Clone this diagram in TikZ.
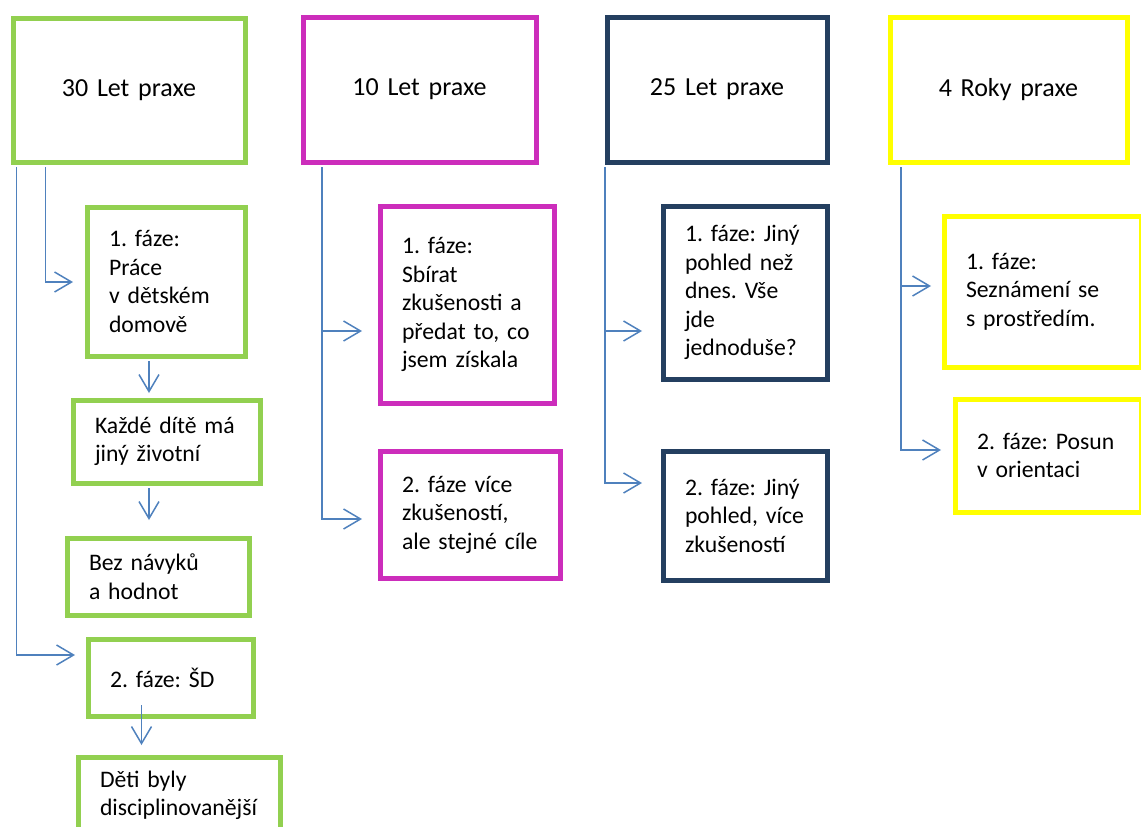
\documentclass[tikz,border=0pt]{standalone}
\usepackage{fontspec}
\setmainfont{Carlito}
\usetikzlibrary{calc}
\usetikzlibrary{arrows.meta}
\definecolor{zelena}{RGB}{146,208,80}
\definecolor{fialova}{RGB}{204,45,187}
\definecolor{tmava}{RGB}{36,63,96}
\definecolor{zluta}{RGB}{255,255,0}
\definecolor{spojka}{RGB}{79,129,189}
\tikzset{box/.style={draw=#1,line width=5pt,anchor=north west,inner xsep=22pt,inner ysep=0pt,
  align=left,font=\fontsize{23.7}{28.5}\selectfont,
  execute at begin node={\frenchspacing\hyphenpenalty=10000\relax}},box/.default=zelena}
\tikzset{heading/.style={box=#1,align=center,minimum height=145pt,
  font=\fontsize{26}{31}\selectfont},heading/.default=zelena}
\tikzset{link/.style={draw=spojka,line width=1.5pt,-{Straight Barb[length=17pt,width=20pt]}}}

\begin{document}
\begin{tikzpicture}[x=1pt,y=-1pt]

	\useasboundingbox (0,0) rectangle (1141,827);

	% 30 let praxe
	\node [heading=zelena, text width=188pt, minimum height=144pt] (g0) at (10.5,15.5) {30 Let praxe};
	\node [box=zelena, text width=114pt, minimum height=149pt] (g1) at (84.5,204.5)
		{1. fáze:\\Práce\\v dětském\\domově};
	\node [box=zelena, text width=143pt, minimum height=83pt] (g2) at (70.5,397.5)
		{Každé dítě má\\jiný životní};
	\node [box=zelena, text width=138pt, minimum height=77pt] (g3) at (64.5,535.5)
		{Bez návyků\\a hodnot};
	\node [box=zelena, text width=121pt, minimum height=77pt] (g4) at (85.5,636.5)
		{2. fáze: ŠD};
	\node [box=zelena, text width=158pt, minimum height=77pt] (g5) at (75.5,754.5)
		{Děti byly\\disciplinovanější};

	% 10 let praxe
	\node [heading=fialova, text width=189pt] (m0) at (300.5,14.5) {10 Let praxe};
	\node [box=fialova, text width=130pt, minimum height=197pt] (m1) at (377.5,203.5)
		{1. fáze:\\Sbírat\\zkušenosti a\\předat to, co\\jsem získala};
	\node [box=fialova, text width=136pt, minimum height=127pt] (m2) at (377.5,448.5)
		{2. fáze více\\zkušeností,\\ale stejné cíle};

	% 25 let praxe
	\node [heading=tmava, text width=176pt] (n0) at (604.5,14.5) {25 Let praxe};
	\node [box=tmava, text width=120pt, minimum height=173pt] (n1) at (660.5,203.5)
		{1. fáze: Jiný\\pohled než\\dnes. Vše\\jde\\jednoduše?};
	\node [box=tmava, text width=120pt, minimum height=129pt] (n2) at (660.5,448.5)
		{2. fáze: Jiný\\pohled, více\\zkušeností};

	% 4 roky praxe
	\node [heading=zluta, text width=193pt] (y0) at (887.5,14.5) {4 Roky praxe};
	\node [box=zluta, text width=153pt, minimum height=151pt] (y1) at (941.5,213.5)
		{1. fáze:\\Seznámení se\\s prostředím.};
	\node [box=zluta, text width=142pt, minimum height=113pt] (y2) at (952.5,396.5)
		{2. fáze: Posun\\v orientaci};

	% Spojky prvního sloupce
	\draw [link] ($(g0.south west)+(6,2.5)$) |- ($(g4.north west)+(-10.5,18.5)$);
	\draw [link] ($(g0.south west)+(35,2.5)$) |- ($(g1.north west)+(-11.5,77.5)$);
	\draw [link] ($(g1.south west)+(64.5,2.5)$) -- ($(g2.north west)+(78.5,-4.5)$);
	\draw [link] ($(g2.south west)+(78.5,2.5)$) -- ($(g3.north west)+(84.5,-15.5)$);
	\draw [link] ($(g4.south west)+(56,-13.5)$) -- ($(g5.north west)+(66,-9.5)$);

	% Spojky druhého sloupce
	\draw [link] ($(m0.south west)+(21.5,2.5)$) |- ($(m1.north west)+(-15.5,127.5)$);
	\draw [link] ($(m0.south west)+(21.5,2.5)$) |- ($(m2.north west)+(-15.5,70.5)$);

	% Spojky třetího sloupce
	\draw [link] ($(n0.south west)+(0.5,2.5)$) |- ($(n1.north west)+(-18.5,127.5)$);
	\draw [link] ($(n0.south west)+(0.5,2.5)$) |- ($(n2.north west)+(-18.5,34.5)$);

	% Spojky čtvrtého sloupce
	\draw [link] ($(y0.south west)+(13.5,2.5)$) |- ($(y1.north west)+(-10.5,72.5)$);
	\draw [link] ($(y0.south west)+(13.5,2.5)$) |- ($(y2.north west)+(-11.5,53.5)$);

\end{tikzpicture}
\end{document}
